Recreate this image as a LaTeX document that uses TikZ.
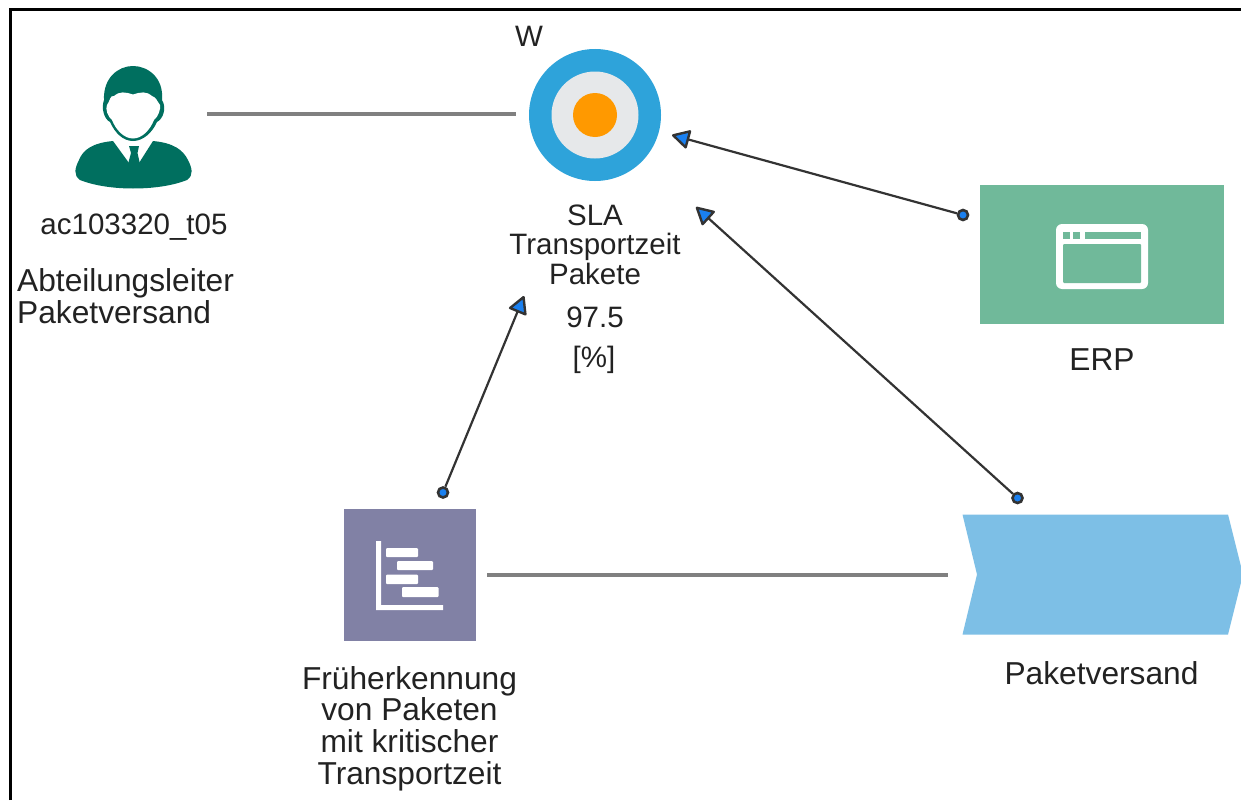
\documentclass[tikz,border=0pt]{standalone}
\usepackage{fontspec}
\setmainfont{Liberation Sans}
\usetikzlibrary{arrows.meta}
\definecolor{teal1}{HTML}{006F5F}
\definecolor{ringblue}{HTML}{2EA3DA}
\definecolor{ringgrey}{HTML}{E6E8EA}
\definecolor{ringorange}{HTML}{FF9900}
\definecolor{appgreen}{HTML}{70B99A}
\definecolor{purplebox}{HTML}{8181A5}
\definecolor{chevblue}{HTML}{7DBFE6}
\definecolor{tipblue}{HTML}{1A80F0}
\definecolor{linkgrey}{HTML}{808080}
\definecolor{txt}{HTML}{222222}
\tikzset{
 x=1pt,y=-1pt,
 lbl/.style={inner sep=0pt,align=center,text=txt,font=\fontsize{29.5}{29.2}\selectfont},
 lblbig/.style={inner sep=0pt,align=center,text=txt,font=\fontsize{31.7}{31.6}\selectfont},
 plain/.style={draw=linkgrey,line width=3.6pt},
 rel/.style={draw=black!80,line width=2.2pt,
   -{Triangle[length=19pt,width=20pt,fill=tipblue,line width=2.4pt,round]}},
 tail/.style={circle,draw=black!80,fill=tipblue,line width=2.6pt,minimum size=10pt,inner sep=0pt},
 anchorpt/.style={inner sep=0pt,minimum size=0pt},
}
\begin{document}
\begin{tikzpicture}
\useasboundingbox (0,0) rectangle (1241,800);
\fill[white] (0,0) rectangle (1241,800);
% frame
\draw[black,line width=2.2pt] (10.5,800) -- (10.5,9.5) -- (1241,9.5);
% person
\node[anchorpt] (person) at (133,128) {};
\fill[teal1] (133,141) .. controls (123,141) and (115,133) .. (110,122)
  .. controls (104,119) and (101,108) .. (104,100)
  .. controls (103,78) and (118,66) .. (133,66)
  .. controls (148,66) and (164,78) .. (162,100)
  .. controls (167,108) and (163,119) .. (157,122)
  .. controls (152,133) and (143,141) .. (133,141) -- cycle;
\fill[white] (133,138.5) .. controls (124,138.5) and (116,130) .. (112,120)
  .. controls (108,117) and (105,109) .. (107,105)
  .. controls (110,101) and (110,95) .. (114,96)
  .. controls (120,91) and (125,92) .. (133,94.5)
  .. controls (141,92) and (146,91) .. (152,96)
  .. controls (156,97) and (157,101) .. (160,105)
  .. controls (161,109) and (158,117) .. (154,120)
  .. controls (150,130) and (142,138.5) .. (133,138.5) -- cycle;
\fill[teal1] (113,141) .. controls (92,143) and (83,150) .. (79,160)
  .. controls (75,168) and (73,175) .. (80,180)
  .. controls (95,186) and (115,188.5) .. (133,188.5)
  .. controls (152,188.5) and (172,186) .. (187,180)
  .. controls (194,175) and (192,168) .. (188,160)
  .. controls (183,150) and (174,143) .. (153,141)
  -- (139,163) -- (129,163) -- cycle;
\fill[teal1] (129,146) -- (139,146) -- (137.5,153) -- (140,164) -- (134,167) -- (128,164) -- (131,153) -- cycle;
% target
\node[circle,fill=ringblue,minimum size=132pt,inner sep=0pt] (target) at (595,115) {};
\node[circle,fill=ringgrey,minimum size=87pt,inner sep=0pt] at (target.center) {};
\node[circle,fill=ringorange,minimum size=44pt,inner sep=0pt] at (target.center) {};
% ERP box
\node[fill=appgreen,minimum width=244pt,minimum height=139pt,inner sep=0pt] (erp) at (1102,254.5) {};
\fill[white,rounded corners=6pt] (1056,224) rectangle (1148,289);
\fill[appgreen,rounded corners=1pt] (1063,244) rectangle (1141,283);
\fill[appgreen] (1063,232) rectangle (1070,239);
\fill[appgreen] (1073,232) rectangle (1080,239);
\fill[appgreen] (1085,232) rectangle (1141,239);
% Gantt box
\node[fill=purplebox,minimum width=132pt,minimum height=132pt,inner sep=0pt] (gantt) at (409.5,575) {};
\fill[white] (376,541) -- (381,541) -- (381,605) -- (443,605) -- (443,610) -- (376,610) -- cycle;
\foreach \xa/\xb/\ya/\yb in {386/418/548/557,397/433/561/570,386/418/574.5/584,402/438.5/587/597}
  \fill[white,rounded corners=1pt] (\xa,\ya) rectangle (\xb,\yb);
% chevron
\fill[chevblue] (962.5,514.5) -- (1228,514.5) -- (1243,574.5) -- (1228,634.5) -- (962.5,634.5) -- (977,574.5) -- cycle;
\node[anchorpt] (chev) at (1100,575) {};
% connector ends
\coordinate (pR) at (207,114);
\coordinate (tL) at (516,114);
\coordinate (gR) at (487,575);
\coordinate (cL) at (948,575);
\node[tail] (erpA) at (963,215) {};
\coordinate (tA) at (672,135);
\node[tail] (chevA) at (1017.5,498) {};
\coordinate (tB) at (696,207);
\node[tail] (ganttA) at (443,492.5) {};
\coordinate (tC) at (524,296);
\draw[plain] (pR) -- (tL);
\draw[plain] (gR) -- (cL);
\draw[rel] (erpA) -- (tA);
\draw[rel] (chevA) -- (tB);
\draw[rel] (ganttA) -- (tC);
% labels
\node[lbl] (w) at (529,36) {W};
\node[lbl,anchor=base] (sla) at (595,284) {SLA\\Transportzeit\\Pakete};
\node[lbl,anchor=base] (val) at (595,327) {97.5};
\node[lbl,anchor=base] (unit) at (594,367) {[\%]};
\node[lbl,anchor=base] (uid) at (134,234) {ac103320\_t05};
\node[lblbig,anchor=base west,align=left] (role) at (17,323) {Abteilungsleiter\\Paketversand};
\node[lblbig,anchor=base] (erpl) at (1102,370) {ERP};
\node[lblbig,anchor=base] (pv) at (1101.5,684) {Paketversand};
\node[lblbig,anchor=base] (fr) at (409.5,784) {Früherkennung\\von Paketen\\mit kritischer\\Transportzeit};
\end{tikzpicture}
\end{document}
